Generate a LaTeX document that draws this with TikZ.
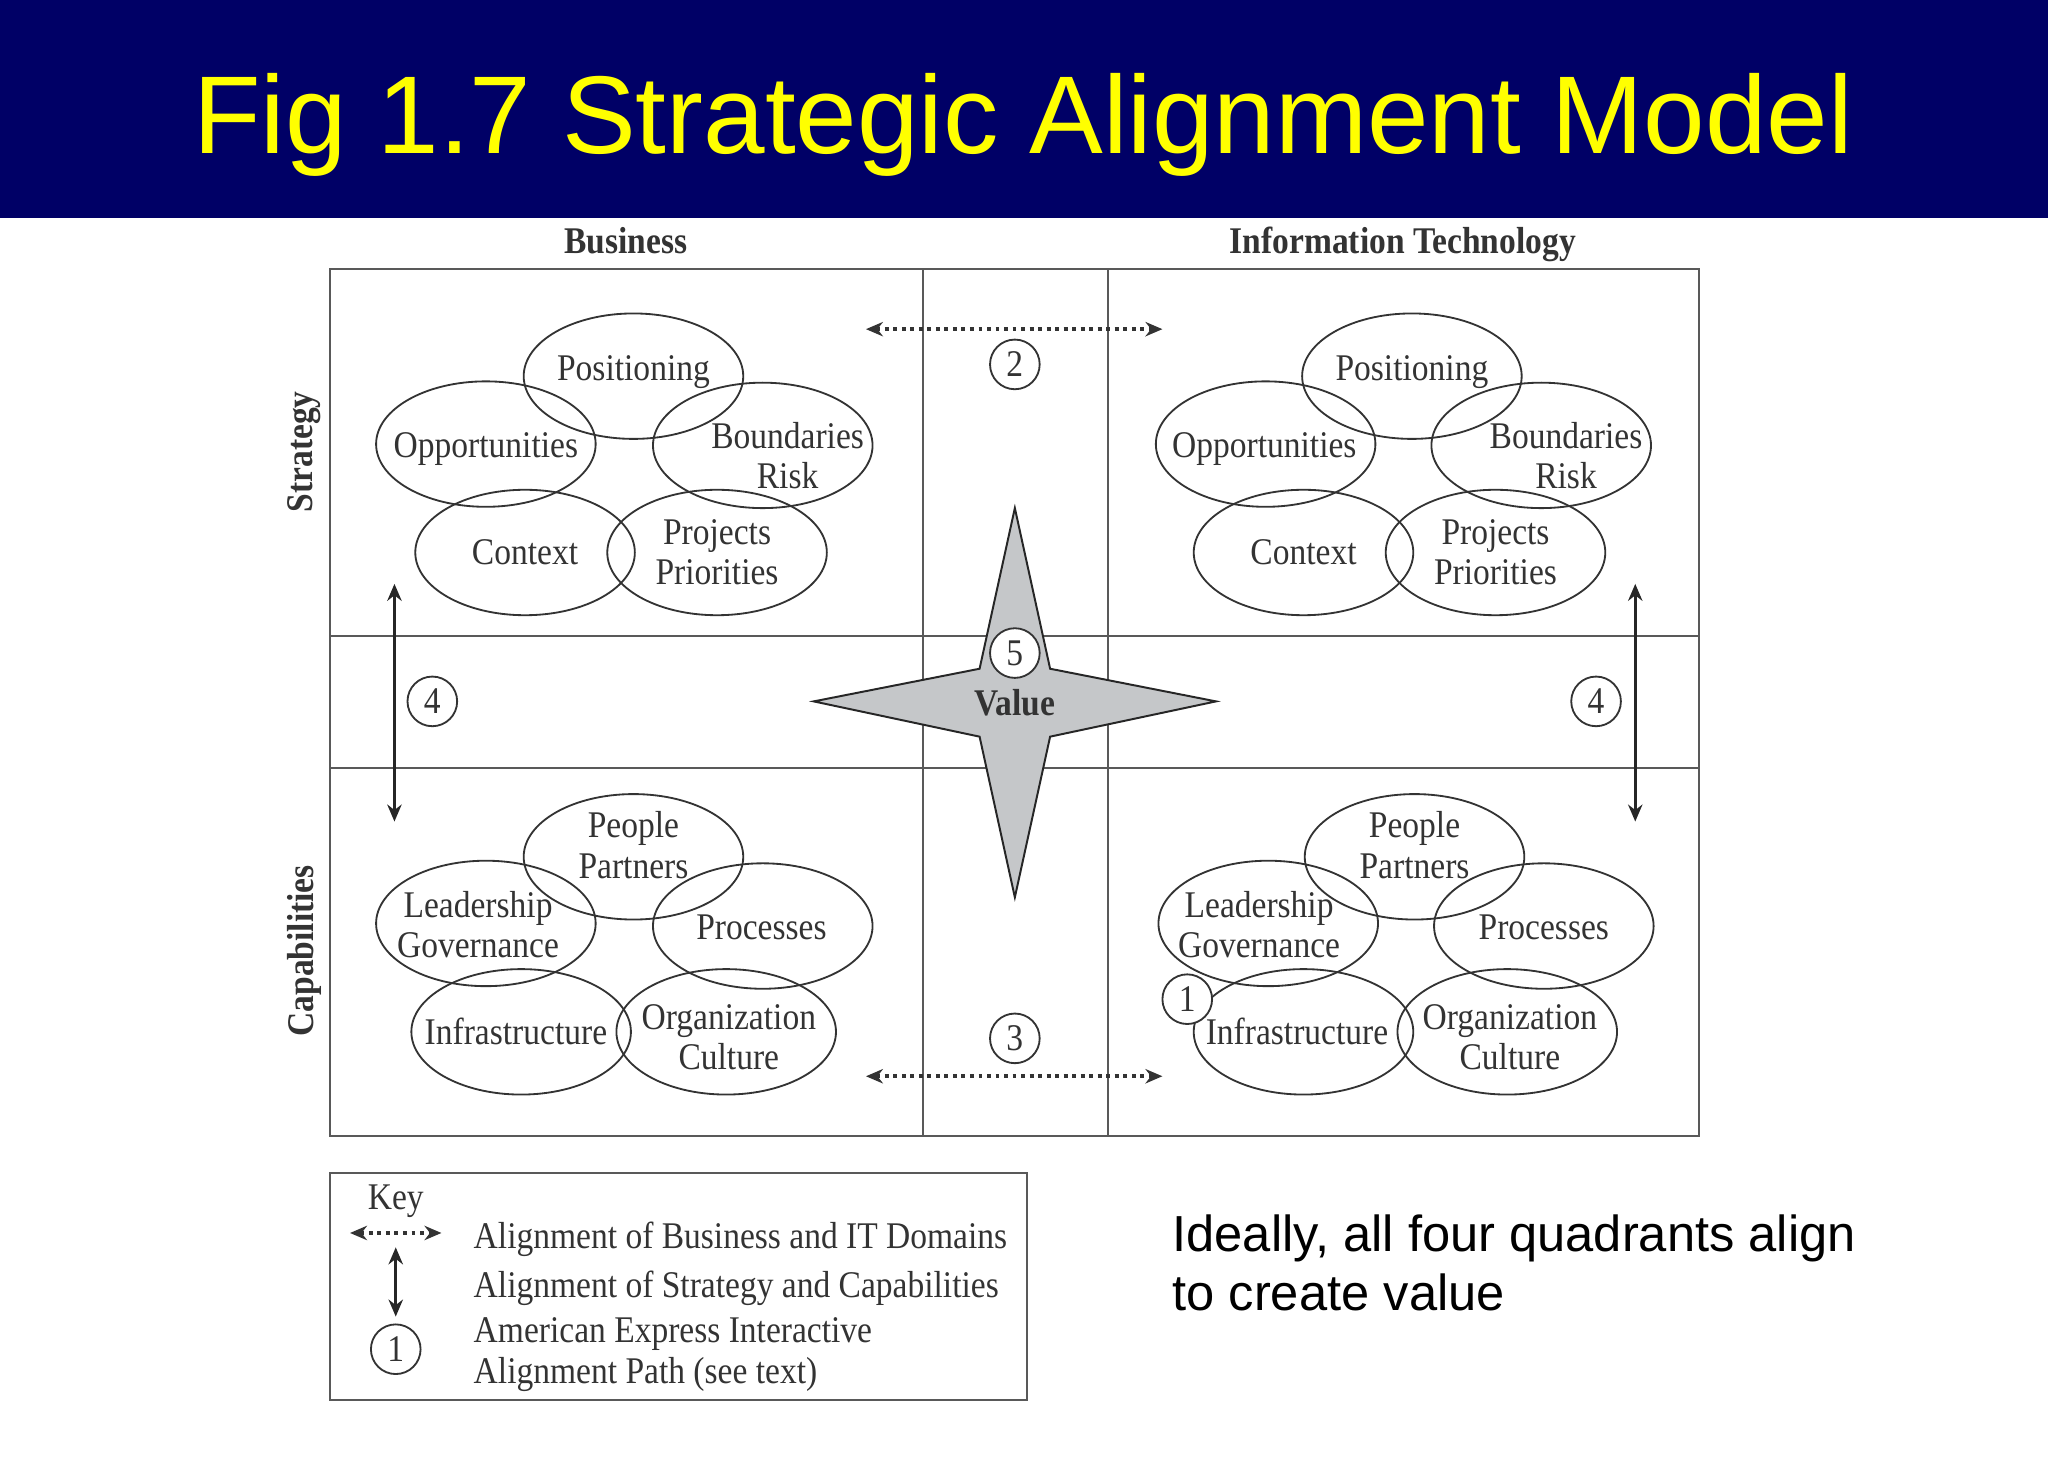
\documentclass[tikz,border=0pt]{standalone}
\usepackage{fontspec}
\setmainfont{Liberation Sans}
\newfontfamily\figfont[FakeStretch=0.89]{Liberation Serif}
\usetikzlibrary{arrows.meta,shapes.geometric}
\definecolor{slidenavy}{HTML}{000066}
\definecolor{slideyellow}{HTML}{FFFF00}
\definecolor{stargray}{HTML}{C5C7C9}
\tikzset{
	blob/.style={draw=black!80, ellipse, line width=0.14mm, minimum width=1.68cm, minimum height=0.96cm, inner sep=0, outer sep=0},
	word/.style={font=\figfont\fontsize{8.2}{8.8}\selectfont, text=black!80, align=center, inner sep=0},
	keyword/.style={word, anchor=west},
	headword/.style={word, font=\figfont\bfseries\fontsize{8.2}{8.8}\selectfont},
	numbered/.style={draw=black!80, fill=white, circle, line width=0.14mm, minimum size=0.38cm, inner sep=0, font=\figfont\fontsize{8.2}{8.8}\selectfont, text=black!80},
	gridline/.style={draw=black!65, line width=0.15mm},
	domainarrow/.style={line width=0.3mm, densely dotted, black!80, {Stealth[length=1.3mm,width=1.1mm]}-{Stealth[length=1.3mm,width=1.1mm]}},
	levelarrow/.style={line width=0.25mm, black!85, {Stealth[length=1.3mm,width=1.1mm]}-{Stealth[length=1.3mm,width=1.1mm]}}
}

\begin{document}
\begin{tikzpicture}[x=0.01cm, y=-0.01cm]
	%%%%% START %%%%%
	\useasboundingbox (0, 0) rectangle (1568, 1132.4);

	\fill[slidenavy] (0, 0) rectangle (1568, 167);
	\node[font=\fontsize{24.08}{28}\selectfont, text=slideyellow, inner sep=0] (slideTitle) at (783.5, 96) {Fig 1.7 Strategic Alignment Model};

	\draw[gridline] (253, 206) rectangle (1301, 870);
	\draw[gridline] (707, 206) -- (707, 870);
	\draw[gridline] (848, 206) -- (848, 870);
	\draw[gridline] (253, 487) -- (1301, 487);
	\draw[gridline] (253, 588) -- (1301, 588);

	\node[headword] (headBusiness) at (479, 184) {Business};
	\node[headword] (headTech) at (1074, 187) {Information Technology};
	\node[headword, rotate=90] (headStrategy) at (233, 346) {Strategy};
	\node[headword, rotate=90] (headCapab) at (233, 728) {Capabilities};

	% business strategy
	\node[blob] (bsPosition) at (485, 288) {};
	\node[blob] (bsOpport) at (372, 340) {};
	\node[blob] (bsBound) at (584, 341) {};
	\node[blob] (bsContext) at (402, 423) {};
	\node[blob] (bsProject) at (549, 423) {};
	\node[word] (bsPositionText) at (485, 285) {Positioning};
	\node[word] (bsOpportText) at (372, 344) {Opportunities};
	\node[word] (bsBoundText) at (603, 349) {Boundaries\\Risk};
	\node[word] (bsContextText) at (402, 423) {Context};
	\node[word] (bsProjectText) at (549, 423) {Projects\\Priorities};

	% IT strategy
	\node[blob] (tsPosition) at (1081, 288) {};
	\node[blob] (tsOpport) at (969, 340) {};
	\node[blob] (tsBound) at (1180, 341) {};
	\node[blob] (tsContext) at (998, 423) {};
	\node[blob] (tsProject) at (1145, 423) {};
	\node[word] (tsPositionText) at (1081, 285) {Positioning};
	\node[word] (tsOpportText) at (968, 344) {Opportunities};
	\node[word] (tsBoundText) at (1199, 349) {Boundaries\\Risk};
	\node[word] (tsContextText) at (998, 423) {Context};
	\node[word] (tsProjectText) at (1145, 423) {Projects\\Priorities};

	% business capabilities
	\node[blob] (bcPeople) at (485, 656) {};
	\node[blob] (bcLead) at (372, 707) {};
	\node[blob] (bcProcess) at (584, 709) {};
	\node[blob] (bcInfra) at (399, 790) {};
	\node[blob] (bcOrg) at (556, 790) {};
	\node[word] (bcPeopleText) at (485, 647) {People\\Partners};
	\node[word] (bcLeadText) at (366, 708) {Leadership\\Governance};
	\node[word] (bcProcessText) at (583, 710) {Processes};
	\node[word] (bcInfraText) at (395, 790) {Infrastructure};
	\node[word] (bcOrgText) at (558, 794) {Organization\\Culture};

	% IT capabilities
	\node[blob] (tcPeople) at (1083, 656) {};
	\node[blob] (tcLead) at (971, 707) {};
	\node[blob] (tcProcess) at (1182, 709) {};
	\node[blob] (tcInfra) at (998, 790) {};
	\node[blob] (tcOrg) at (1154, 790) {};
	\node[word] (tcPeopleText) at (1083, 647) {People\\Partners};
	\node[word] (tcLeadText) at (964, 708) {Leadership\\Governance};
	\node[word] (tcProcessText) at (1182, 710) {Processes};
	\node[word] (tcInfraText) at (993, 790) {Infrastructure};
	\node[word] (tcOrgText) at (1156, 794) {Organization\\Culture};

	% value star
	\draw[fill=stargray, draw=black!85, line width=0.15mm] (777, 389) -- (804, 512) -- (931, 537) -- (804, 564) -- (777, 687) -- (750, 564) -- (623, 537) -- (750, 512) -- cycle;
	\node[headword] (starValue) at (777, 538) {Value};
	\node[numbered] (numFive) at (777, 500) {5};

	\node[numbered] (numTwo) at (777, 279) {2};
	\node[numbered] (numThree) at (777, 795) {3};
	\node[numbered] (numFourL) at (331, 537) {4};
	\node[numbered] (numFourR) at (1222, 537) {4};
	\node[numbered] (numOne) at (909, 765) {1};

	\coordinate (topL) at (663, 252);
	\coordinate (topR) at (890, 252);
	\coordinate (botL) at (663, 824);
	\coordinate (botR) at (890, 824);
	\coordinate (leftT) at (302, 447);
	\coordinate (leftB) at (302, 629);
	\coordinate (rightT) at (1252, 447);
	\coordinate (rightB) at (1252, 629);
	\draw[domainarrow] (topL) -- (topR);
	\draw[domainarrow] (botL) -- (botR);
	\draw[levelarrow] (leftT) -- (leftB);
	\draw[levelarrow] (rightT) -- (rightB);

	% key
	\draw[gridline] (253, 898) rectangle (786, 1072);
	\node[word] (keyTitle) at (303, 920) {Key};
	\coordinate (keyDomL) at (268, 944);
	\coordinate (keyDomR) at (338, 944);
	\coordinate (keyLevT) at (303, 955);
	\coordinate (keyLevB) at (303, 1008);
	\draw[domainarrow] (keyDomL) -- (keyDomR);
	\draw[levelarrow] (keyLevT) -- (keyLevB);
	\node[numbered] (keyOne) at (303, 1033) {1};
	\node[keyword] (keyDomText) at (362, 949) {Alignment of Business and IT Domains};
	\node[keyword] (keyLevText) at (362, 986) {Alignment of Strategy and Capabilities};
	\node[keyword] (keyPathA) at (362, 1021) {American Express Interactive};
	\node[keyword] (keyPathB) at (362, 1052) {Alignment Path (see text)};

	\node[anchor=west, inner sep=0, align=left, font=\fontsize{11.03}{13}\selectfont] (bodyNote) at (897, 967) {Ideally, all four quadrants align\\to create value};
	%%%%% END %%%%%
\end{tikzpicture}
\end{document}
